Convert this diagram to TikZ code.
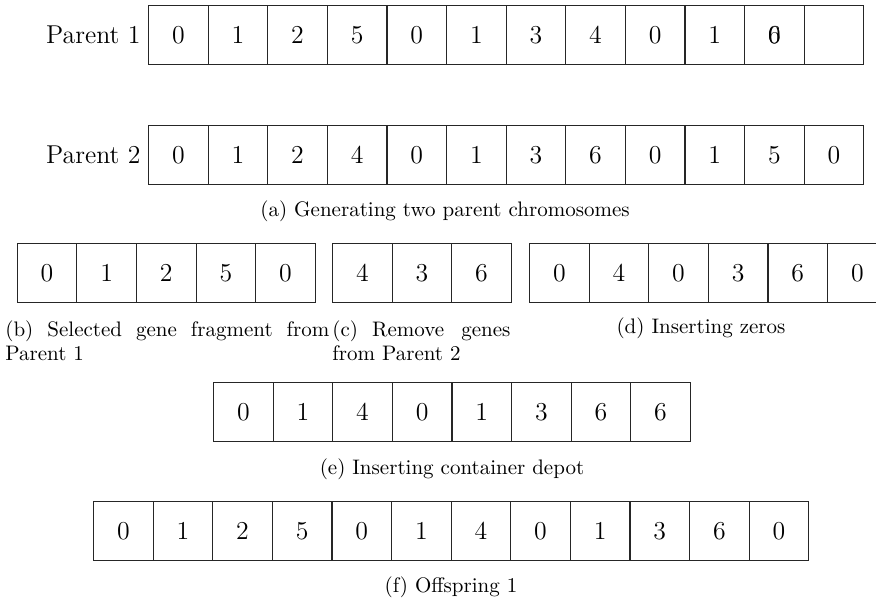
\documentclass[tikz,border=0pt]{standalone}
\begin{document}
\newcommand{\cellfont}{\fontsize{12.9}{15}\selectfont}
\newcommand{\capfont}{\fontsize{10.5}{12}\selectfont}
\begin{tikzpicture}[x=0.5pt,y=-0.5pt,
  cell/.style={draw=black!85, line width=0.55pt, minimum width=29.8pt, minimum height=29.5pt,
    inner sep=0pt, anchor=north west, font=\cellfont},
  rowlabel/.style={anchor=east, inner sep=0pt, font=\cellfont},
  captext/.style={inner sep=0pt, font=\capfont}]
\clip (0,0) rectangle (876,601);
\fill[white] (0,0) rectangle (876,601);
% Parent 1
\node[rowlabel] (lab1) at (141,34.5) {Parent 1};
\foreach \v [count=\i] in {0,1,2,5,0,1,3,4,0,1}
  \node[cell] (pa-\i) at ({148+(\i-1)*59.6},5) {\v};
\node[cell] (pa-11) at ({148+10*59.6},5) {\makebox[0pt]{0}\makebox[0pt]{6}};
\node[cell] (pa-12) at ({148+11*59.6},5) {};
% Parent 2
\node[rowlabel] (lab2) at (141,154.5) {Parent 2};
\foreach \v [count=\i] in {0,1,2,4,0,1,3,6,0,1,5,0}
  \node[cell] (pb-\i) at ({148+(\i-1)*59.6},125) {\v};
\node[captext] (capa) at (445,211) {(a) Generating two parent chromosomes};
% (b)
\foreach \v [count=\i] in {0,1,2,5,0}
  \node[cell] (b-\i) at ({16.7+(\i-1)*59.6},243) {\v};
% (c)
\foreach \v [count=\i] in {4,3,6}
  \node[cell] (c-\i) at ({332+(\i-1)*59.6},243) {\v};
% (d)
\foreach \v [count=\i] in {0,4,0,3,6,0}
  \node[cell] (d-\i) at ({529+(\i-1)*59.6},243) {\v};
\node[captext, anchor=north west, align=left] (capb) at (5,320)
  {\makebox[162pt][s]{(b) Selected gene fragment from}\\Parent 1};
\node[captext, anchor=north west, align=left] (capc) at (332,320)
  {\makebox[89pt][l]{(c)\hspace{7pt}Remove\hfill genes}\\from Parent 2};
\node[captext] (capd) at (701,328) {(d) Inserting zeros};
% (e)
\foreach \v [count=\i] in {0,1,4,0,1,3,6,6}
  \node[cell] (e-\i) at ({213+(\i-1)*59.6},382) {\v};
\node[captext] (cape) at (452,469) {(e) Inserting container depot};
% (f)
\foreach \v [count=\i] in {0,1,2,5,0,1,4,0,1,3,6,0}
  \node[cell] (f-\i) at ({93+(\i-1)*59.6},501) {\v};
\node[captext] (capf) at (451,587) {(f) Offspring 1};
\end{tikzpicture}
\end{document}
